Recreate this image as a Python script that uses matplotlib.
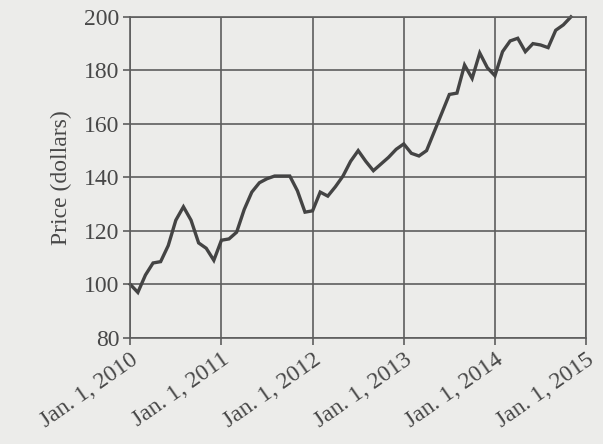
import numpy as np
import matplotlib
matplotlib.use('Agg')
import matplotlib.pyplot as plt

# -----------------------------------------------------------------------------
# Data (monthly price, starting Jan. 2010)
# -----------------------------------------------------------------------------
price = [100, 97, 103.5, 108, 108.5, 114.5, 124, 129, 124, 115.5, 113.5, 109,
         116.5, 117, 119.5, 128, 134.5, 138, 139.5, 140.5, 140.5, 140.5, 135, 127,
         127.5, 134.5, 133, 136.5, 140.5, 146, 150, 146, 142.5, 145, 147.5, 150.5,
         152.5, 149, 148, 150, 157, 164, 171, 171.5, 182, 177, 186.5, 181,
         178, 187, 191, 192, 187, 190, 189.5, 188.5, 195, 197, 200]
year_ticks = [0, 1, 2, 3, 4, 5]
year_labels = ['Jan. 1, 2010', 'Jan. 1, 2011', 'Jan. 1, 2012',
               'Jan. 1, 2013', 'Jan. 1, 2014', 'Jan. 1, 2015']
price_ticks = [80, 100, 120, 140, 160, 180, 200]

months = np.arange(len(price)) / 12.0

# -----------------------------------------------------------------------------
# Plot
# -----------------------------------------------------------------------------
plt.rcParams['font.family'] = ['Liberation Serif', 'DejaVu Serif']
bg = '#ececea'
ink = '#484848'

fig = plt.figure(figsize=(6.03, 4.44), dpi=100, facecolor=bg)
ax = fig.add_axes([0.216, 0.239, 0.756, 0.723], facecolor=bg)

ax.plot(months, price, color='#444444', lw=2.4, solid_joinstyle='miter', clip_on=False)

ax.set_xlim(0, 5)
ax.set_ylim(80, 200)
ax.set_xticks(year_ticks)
ax.set_xticklabels(year_labels, rotation=35, ha='right', rotation_mode='anchor')
ax.set_yticks(price_ticks)
ax.grid(True, color='#5e5e5e', lw=1.2)
for s in ax.spines.values():
    s.set_color('#5e5e5e')
    s.set_linewidth(1.2)
ax.tick_params(axis='both', colors='#5e5e5e', labelcolor=ink, length=5, width=1.2)
ax.tick_params(axis='x', labelsize=17, pad=3)
ax.tick_params(axis='y', labelsize=17, pad=3)
ax.set_ylabel('Price (dollars)', fontsize=17, color=ink, labelpad=8)

fig.savefig('out.png', dpi=100, facecolor=bg)
